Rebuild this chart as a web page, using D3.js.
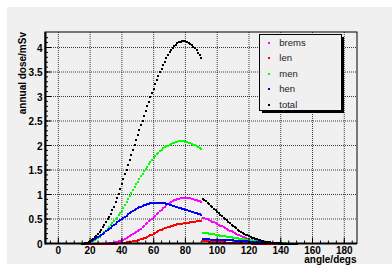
<!DOCTYPE html>
<html><head><meta charset="utf-8">
<script src="https://cdn.jsdelivr.net/npm/d3@7"></script>
<style>html,body{margin:0;padding:0;background:#fff;}svg{display:block;}</style>
</head><body><svg id="c" width="392" height="267"></svg>
<script>
const angles1 = d3.range(15, 91);
const angles2 = d3.range(91, 151);
const seriesNames = ["brems", "len", "men", "hen", "total"];
const seriesColors = ["#ff00ff", "#ff0000", "#00ff00", "#0000ff", "#000000"];
const xTicks = [0, 20, 40, 60, 80, 100, 120, 140, 160, 180];
const yTicks = [0, 0.5, 1, 1.5, 2, 2.5, 3, 3.5, 4];
const yTickLabels = ["0", "0.5", "1", "1.5", "2", "2.5", "3", "3.5", "4"];

const brems1 = [0,0,0,0,0,0,0,0,0,0,0,0,0,0,0,0,0,
 0.01,0.01,0.02,0.02,0.03,0.04,0.05,0.06,0.07,0.08,
 0.10,0.11,0.13,0.15,0.17,0.19,0.21,0.23,0.25,0.28,
 0.30,0.33,0.36,0.39,0.42,0.45,0.48,0.51,0.54,0.57,
 0.60,0.63,0.66,0.69,0.72,0.75,0.78,0.80,0.82,0.84,
 0.86,0.88,0.89,0.90,0.91,0.92,0.92,0.93,0.93,0.93,
 0.92,0.92,0.91,0.90,0.89,0.88,0.87,0.86,0.85];
const len1 = [0,0,0,0,0,0,0,0,0,0,0,0,0,0,0,0,0,0,0,0,0,0,0,
 0.01,0.01,0.01,0.02,0.02,0.03,0.03,0.04,0.04,0.05,
 0.05,0.06,0.07,0.08,0.09,0.10,0.11,0.12,0.14,0.15,
 0.17,0.18,0.20,0.22,0.23,0.25,0.27,0.28,0.30,0.31,
 0.32,0.33,0.34,0.35,0.36,0.37,0.38,0.39,0.39,0.40,
 0.40,0.41,0.41,0.42,0.42,0.43,0.43,0.44,0.44,0.45,
 0.45,0.45,0.46];
const men1 = [0.00,0.00,0.01,0.01,0.02,0.03,0.05,0.06,0.08,0.10,
 0.12,0.14,0.17,0.20,0.23,0.26,0.30,0.33,0.37,0.41,
 0.45,0.49,0.53,0.58,0.62,0.67,0.73,0.79,0.85,0.91,
 0.97,1.03,1.09,1.15,1.21,1.26,1.32,1.37,1.42,1.47,
 1.52,1.57,1.62,1.66,1.70,1.74,1.78,1.82,1.85,1.88,
 1.91,1.94,1.96,1.98,2.00,2.02,2.04,2.05,2.06,2.07,
 2.08,2.09,2.09,2.09,2.09,2.08,2.07,2.06,2.05,2.04,
 2.02,2.01,1.99,1.97,1.95,1.93];
const hen1 = [0.00,0.00,0.01,0.01,0.02,0.04,0.05,0.07,0.09,0.11,
 0.13,0.15,0.17,0.20,0.22,0.25,0.27,0.30,0.32,0.35,
 0.37,0.40,0.43,0.45,0.48,0.50,0.53,0.55,0.57,0.60,
 0.62,0.64,0.66,0.68,0.70,0.72,0.74,0.75,0.77,0.78,
 0.79,0.80,0.81,0.82,0.82,0.83,0.83,0.83,0.83,0.83,
 0.83,0.82,0.82,0.81,0.80,0.79,0.78,0.77,0.76,0.75,
 0.74,0.73,0.72,0.71,0.70,0.69,0.68,0.67,0.66,0.65,
 0.64,0.63,0.62,0.61,0.60,0.58];
const total1 = [0.00,0.00,0.01,0.02,0.03,0.05,0.07,0.10,0.13,0.16,
 0.20,0.24,0.28,0.33,0.38,0.43,0.49,0.55,0.61,0.68,
 0.75,0.84,0.93,1.02,1.11,1.21,1.31,1.41,1.51,1.61,
 1.71,1.81,1.91,2.01,2.11,2.21,2.31,2.41,2.51,2.61,
 2.71,2.80,2.89,2.98,3.07,3.16,3.25,3.33,3.41,3.49,
 3.57,3.64,3.71,3.78,3.84,3.90,3.95,3.99,4.03,4.06,
 4.09,4.11,4.12,4.13,4.13,4.13,4.12,4.10,4.08,4.05,
 4.02,3.98,3.94,3.89,3.84,3.78];

const brems2 = [0.53,0.52,0.50,0.49,0.47,0.46,0.44,0.43,0.41,0.39,
 0.38,0.36,0.35,0.33,0.31,0.30,0.28,0.26,0.25,0.23,
 0.21,0.20,0.18,0.17,0.15,0.14,0.13,0.11,0.10,0.09,
 0.08,0.07,0.06,0.05,0.05,0.04,0.04,0.03,0.03,0.02,
 0.02,0.02,0.01,0.01,0.01,0.01,0,0,0,0,
 0,0,0,0,0,0,0,0,0,0];
const len2 = [0.05,0.05,0.05,0.05,0.04,0.04,0.04,0.04,0.04,0.03,
 0.03,0.03,0.03,0.03,0.03,0.02,0.02,0.02,0.02,0.02,
 0.02,0.01,0.01,0.01,0.01,0.01,0.01,0.01,0.01,0.01,
 0.01,0,0,0,0,0,0,0,0,0,
 0,0,0,0,0,0,0,0,0,0,
 0,0,0,0,0,0,0,0,0,0];
const men2 = [0.22,0.22,0.21,0.21,0.20,0.20,0.19,0.19,0.18,0.17,
 0.17,0.16,0.16,0.15,0.15,0.14,0.14,0.13,0.13,0.12,
 0.12,0.11,0.11,0.10,0.10,0.09,0.09,0.08,0.08,0.07,
 0.07,0.06,0.06,0.06,0.05,0.05,0.05,0.04,0.04,0.04,
 0.03,0.03,0.03,0.02,0.02,0.02,0.02,0.01,0.01,0.01,
 0.01,0.01,0.01,0,0,0,0,0,0,0];
const hen2 = [0.09,0.09,0.09,0.09,0.09,0.08,0.08,0.08,0.08,0.08,
 0.08,0.08,0.08,0.07,0.07,0.07,0.07,0.07,0.07,0.07,
 0.06,0.06,0.06,0.06,0.06,0.05,0.05,0.05,0.05,0.04,
 0.04,0.04,0.04,0.03,0.03,0.03,0.03,0.02,0.02,0.02,
 0.02,0.02,0.01,0.01,0.01,0.01,0.01,0.01,0,0,
 0,0,0,0,0,0,0,0,0,0];
const total2 = [0.91,0.89,0.86,0.83,0.80,0.77,0.74,0.71,0.68,0.65,
 0.62,0.59,0.56,0.53,0.50,0.47,0.44,0.41,0.38,0.36,
 0.33,0.31,0.28,0.26,0.24,0.22,0.20,0.18,0.17,0.15,
 0.14,0.12,0.11,0.10,0.09,0.08,0.07,0.06,0.05,0.04,
 0.04,0.03,0.03,0.02,0.02,0.02,0.01,0.01,0.01,0.01,
 0,0,0,0,0,0,0,0,0,0];

const seg1 = [brems1, len1, men1, hen1, total1];
const seg2 = [brems2, len2, men2, hen2, total2];

const svg = d3.select("#c");
const L = 45, R = 357, T = 32, B = 243.5;
const x = d3.scaleLinear().domain([-8.4, 188]).range([L, R]);
const y = d3.scaleLinear().domain([0, (B - T) / 49]).range([B, T]);
const font = "'Liberation Sans', Arial, Helvetica, sans-serif";

// canvas
svg.append("rect").attr("x", 7).attr("y", 7).attr("width", 385).attr("height", 257).attr("fill", "#f0f0f0");

// grid
const grid = svg.append("g").attr("stroke", "#000").attr("stroke-opacity", 0.75)
  .attr("stroke-dasharray", "1,1").attr("stroke-width", 1);
xTicks.forEach(v => grid.append("line").attr("x1", x(v)).attr("x2", x(v)).attr("y1", T).attr("y2", B));
yTicks.forEach(v => grid.append("line").attr("x1", L).attr("x2", R).attr("y1", y(v)).attr("y2", y(v)));

// data markers
const marks = svg.append("g").attr("shape-rendering", "crispEdges");
seriesNames.forEach((name, i) => {
  const pts = angles1.map((a, j) => [a, seg1[i][j]]).concat(angles2.map((a, j) => [a, seg2[i][j]]));
  marks.append("g").attr("fill", seriesColors[i]).selectAll("rect").data(pts).join("rect")
    .attr("x", d => Math.round(x(d[0])) - 1).attr("y", d => Math.round(y(d[1])) - 1)
    .attr("width", 2).attr("height", 2);
});

// frame
svg.append("rect").attr("x", L).attr("y", T).attr("width", R - L).attr("height", B - T)
  .attr("fill", "none").attr("stroke", "#000").attr("stroke-width", 1);

// y axis
const yMinor = d3.range(0, 43).map(k => k / 10);
const ax = svg.append("g").attr("stroke", "#000").attr("stroke-width", 1);
yMinor.forEach(v => ax.append("line").attr("x1", L).attr("x2", L + 3).attr("y1", y(v)).attr("y2", y(v)));
yTicks.forEach(v => ax.append("line").attr("x1", L).attr("x2", L + 6).attr("y1", y(v)).attr("y2", y(v)));
const xMinor = d3.range(-5, 190, 5);
xMinor.forEach(v => ax.append("line").attr("x1", x(v)).attr("x2", x(v)).attr("y1", B).attr("y2", B - 3));
xTicks.forEach(v => ax.append("line").attr("x1", x(v)).attr("x2", x(v)).attr("y1", B).attr("y2", B - 6));
svg.append("line").attr("x1", L + 0.5).attr("x2", L + 0.5).attr("y1", T).attr("y2", B + 1).attr("stroke", "#000").attr("stroke-width", 2);
svg.append("line").attr("x1", L).attr("x2", R).attr("y1", B).attr("y2", B).attr("stroke", "#000").attr("stroke-width", 2);

// tick labels
svg.append("g").selectAll("text").data(yTicks).join("text")
  .attr("x", 42.5).attr("y", d => y(d) + 4).attr("text-anchor", "end")
  .attr("font-family", font).attr("font-weight", "bold").attr("font-size", 10)
  .text((d, i) => yTickLabels[i]);
svg.append("g").selectAll("text").data(xTicks).join("text")
  .attr("x", d => x(d)).attr("y", 253.5).attr("text-anchor", "middle")
  .attr("font-family", font).attr("font-weight", "bold").attr("font-size", 10)
  .text(d => d);

// axis titles
svg.append("text").attr("x", 356.5).attr("y", 262.5).attr("text-anchor", "end")
  .attr("font-family", font).attr("font-weight", "bold").attr("font-size", 10).text("angle/degs");
svg.append("text").attr("transform", "translate(25.5,32) rotate(-90)").attr("text-anchor", "end")
  .attr("font-family", font).attr("font-weight", "bold").attr("font-size", 10).text("annual dose/mSv");

// legend
const lg = svg.append("g");
lg.append("rect").attr("x", 262).attr("y", 37).attr("width", 82).attr("height", 76).attr("fill", "#000");
lg.append("rect").attr("x", 259.5).attr("y", 34.5).attr("width", 82).attr("height", 76)
  .attr("fill", "#f0f0f0").attr("stroke", "#000").attr("stroke-width", 1);
seriesNames.forEach((name, i) => {
  const cy = 42.5 + i * 15.5;
  lg.append("rect").attr("x", 268).attr("y", Math.round(cy) - 1).attr("width", 2).attr("height", 2)
    .attr("fill", seriesColors[i]).attr("shape-rendering", "crispEdges");
  lg.append("text").attr("x", 279.3).attr("y", cy + 3.4).attr("font-family", font)
    .attr("font-size", 9.5).attr("fill", "#222").text(name);
});
</script></body></html>
